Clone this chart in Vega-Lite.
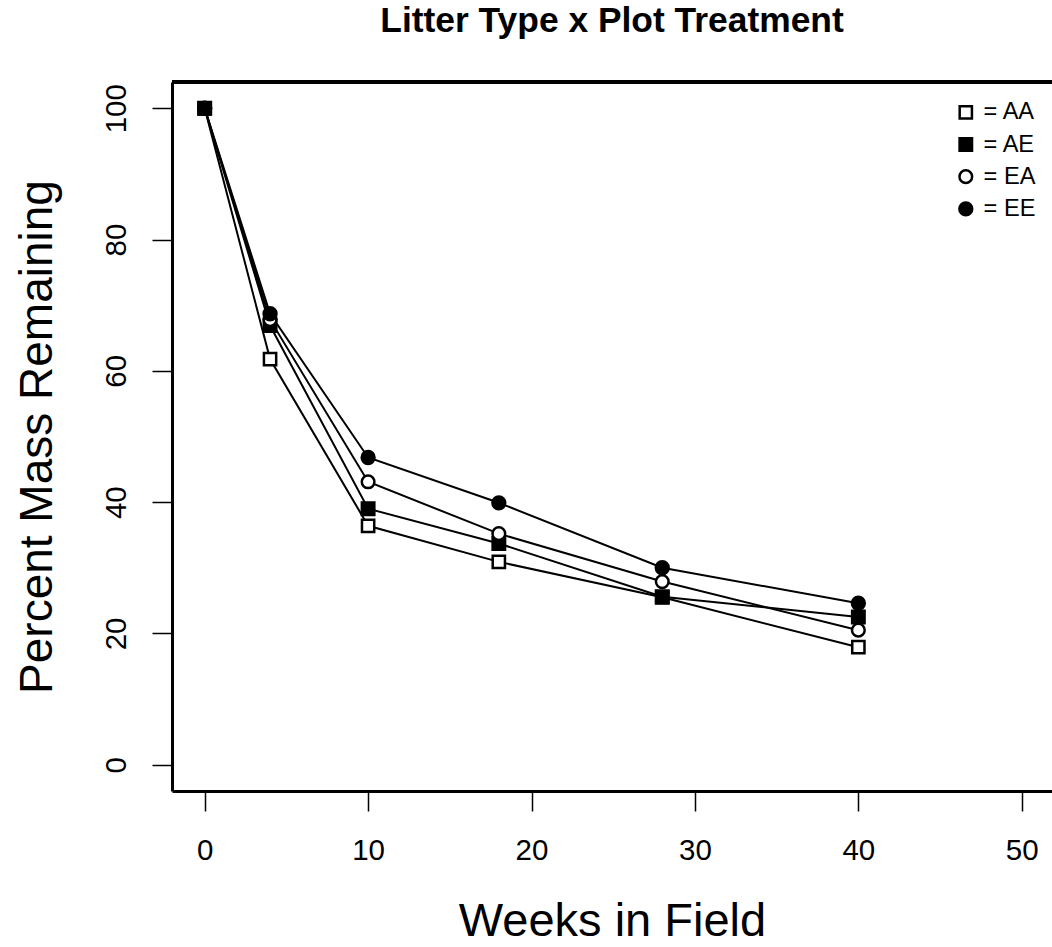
{
  "$schema": "https://vega.github.io/schema/vega-lite/v6.json",
  "autosize": {"type": "none"},
  "width": 880,
  "height": 709,
  "padding": {"left": 172, "top": 82, "right": 0, "bottom": 156},
  "background": "white",
  "title": {
    "text": "Litter Type x Plot Treatment",
    "font": "Liberation Sans",
    "fontSize": 35.4,
    "fontWeight": "bold",
    "color": "black",
    "anchor": "middle",
    "baseline": "alphabetic",
    "offset": 13
  },
  "config": {
    "view": {"stroke": null},
    "font": "Liberation Sans",
    "axis": {
      "domainColor": "black",
      "domainWidth": 3,
      "tickColor": "black",
      "tickWidth": 1.5,
      "tickSize": 20,
      "labelColor": "black",
      "labelFont": "Liberation Sans",
      "labelFontSize": 29.5,
      "titleColor": "black",
      "titleFont": "Liberation Sans",
      "titleFontSize": 47,
      "titleFontWeight": "normal",
      "grid": false
    },
    "legend": {
      "symbolStrokeColor": "black",
      "symbolStrokeWidth": 2.5
    }
  },
  "data": {
    "values": [
      {"week": 0, "mass": 100, "type": "AA"},
      {"week": 4, "mass": 61.8, "type": "AA"},
      {"week": 10, "mass": 36.4, "type": "AA"},
      {"week": 18, "mass": 30.9, "type": "AA"},
      {"week": 28, "mass": 25.5, "type": "AA"},
      {"week": 40, "mass": 17.9, "type": "AA"},
      {"week": 0, "mass": 100, "type": "AE"},
      {"week": 4, "mass": 66.9, "type": "AE"},
      {"week": 10, "mass": 39.0, "type": "AE"},
      {"week": 18, "mass": 33.7, "type": "AE"},
      {"week": 28, "mass": 25.6, "type": "AE"},
      {"week": 40, "mass": 22.5, "type": "AE"},
      {"week": 0, "mass": 100, "type": "EA"},
      {"week": 4, "mass": 67.8, "type": "EA"},
      {"week": 10, "mass": 43.1, "type": "EA"},
      {"week": 18, "mass": 35.2, "type": "EA"},
      {"week": 28, "mass": 27.9, "type": "EA"},
      {"week": 40, "mass": 20.5, "type": "EA"},
      {"week": 0, "mass": 100, "type": "EE"},
      {"week": 4, "mass": 68.7, "type": "EE"},
      {"week": 10, "mass": 46.8, "type": "EE"},
      {"week": 18, "mass": 39.9, "type": "EE"},
      {"week": 28, "mass": 30.0, "type": "EE"},
      {"week": 40, "mass": 24.6, "type": "EE"}
    ]
  },
  "layer": [
    {
      "mark": {"type": "line", "color": "black", "strokeWidth": 2},
      "encoding": {
        "x": {
          "field": "week",
          "type": "quantitative",
          "scale": {"domain": [-2, 51.85], "nice": false, "zero": false},
          "axis": {
            "orient": "bottom",
            "values": [0, 10, 20, 30, 40, 50],
            "title": "Weeks in Field",
            "labelPadding": 25,
            "labelFlush": false,
            "labelOverlap": false,
            "titlePadding": 71,
            "titleBaseline": "alphabetic"
          }
        },
        "y": {
          "field": "mass",
          "type": "quantitative",
          "scale": {"domain": [-4, 104], "nice": false, "zero": false},
          "axis": {
            "orient": "left",
            "values": [0, 20, 40, 60, 80, 100],
            "title": "Percent Mass Remaining",
            "titleFontSize": 46,
            "labelAngle": -90,
            "labelAlign": "center",
            "labelBaseline": "alphabetic",
            "labelPadding": 27,
            "labelFlush": false,
            "labelOverlap": false,
            "titlePadding": 50,
            "titleBaseline": "alphabetic"
          }
        },
        "detail": {"field": "type"}
      }
    },
    {
      "mark": {"type": "rule", "color": "black", "strokeWidth": 3},
      "encoding": {
        "y": {
          "datum": 104,
          "type": "quantitative",
          "axis": {
            "orient": "left",
            "values": [0, 20, 40, 60, 80, 100],
            "title": "Percent Mass Remaining",
            "titleFontSize": 46,
            "labelAngle": -90,
            "labelAlign": "center",
            "labelBaseline": "alphabetic",
            "labelPadding": 27,
            "labelFlush": false,
            "labelOverlap": false,
            "titlePadding": 50,
            "titleBaseline": "alphabetic"
          }
        }
      }
    },
    {
      "mark": {"type": "point", "filled": true, "strokeWidth": 2.5, "opacity": 1},
      "encoding": {
        "x": {
          "field": "week",
          "type": "quantitative",
          "axis": {
            "orient": "bottom",
            "values": [0, 10, 20, 30, 40, 50],
            "title": "Weeks in Field",
            "labelPadding": 25,
            "labelFlush": false,
            "labelOverlap": false,
            "titlePadding": 71,
            "titleBaseline": "alphabetic"
          }
        },
        "y": {
          "field": "mass",
          "type": "quantitative",
          "axis": {
            "orient": "left",
            "values": [0, 20, 40, 60, 80, 100],
            "title": "Percent Mass Remaining",
            "titleFontSize": 46,
            "labelAngle": -90,
            "labelAlign": "center",
            "labelBaseline": "alphabetic",
            "labelPadding": 27,
            "labelFlush": false,
            "labelOverlap": false,
            "titlePadding": 50,
            "titleBaseline": "alphabetic"
          }
        },
        "shape": {
          "field": "type",
          "type": "nominal",
          "scale": {"domain": ["AA", "AE", "EA", "EE"], "range": ["square", "square", "circle", "circle"]},
          "legend": {
            "orient": "none",
            "legendX": 782,
            "legendY": 18.5,
            "title": null,
            "labelExpr": "'= ' + datum.label",
            "labelFont": "Liberation Sans",
            "labelFontSize": 23.6,
            "labelColor": "black",
            "labelOffset": 6,
            "rowPadding": 7.2,
            "padding": 0
          }
        },
        "fill": {
          "field": "type",
          "type": "nominal",
          "scale": {"domain": ["AA", "AE", "EA", "EE"], "range": ["white", "black", "white", "black"]},
          "legend": {
            "orient": "none",
            "legendX": 782,
            "legendY": 18.5,
            "title": null,
            "labelExpr": "'= ' + datum.label",
            "labelFont": "Liberation Sans",
            "labelFontSize": 23.6,
            "labelColor": "black",
            "labelOffset": 6,
            "rowPadding": 7.2,
            "padding": 0
          }
        },
        "stroke": {
          "field": "type",
          "type": "nominal",
          "scale": {"domain": ["AA", "AE", "EA", "EE"], "range": ["black", "black", "black", "black"]},
          "legend": {
            "orient": "none",
            "legendX": 782,
            "legendY": 18.5,
            "title": null,
            "labelExpr": "'= ' + datum.label",
            "labelFont": "Liberation Sans",
            "labelFontSize": 23.6,
            "labelColor": "black",
            "labelOffset": 6,
            "rowPadding": 7.2,
            "padding": 0
          }
        },
        "size": {
          "field": "type",
          "type": "nominal",
          "scale": {"domain": ["AA", "AE", "EA", "EE"], "range": [150, 165, 140, 190]},
          "legend": {
            "orient": "none",
            "legendX": 782,
            "legendY": 18.5,
            "title": null,
            "labelExpr": "'= ' + datum.label",
            "labelFont": "Liberation Sans",
            "labelFontSize": 23.6,
            "labelColor": "black",
            "labelOffset": 6,
            "rowPadding": 7.2,
            "padding": 0
          }
        }
      }
    }
  ]
}
